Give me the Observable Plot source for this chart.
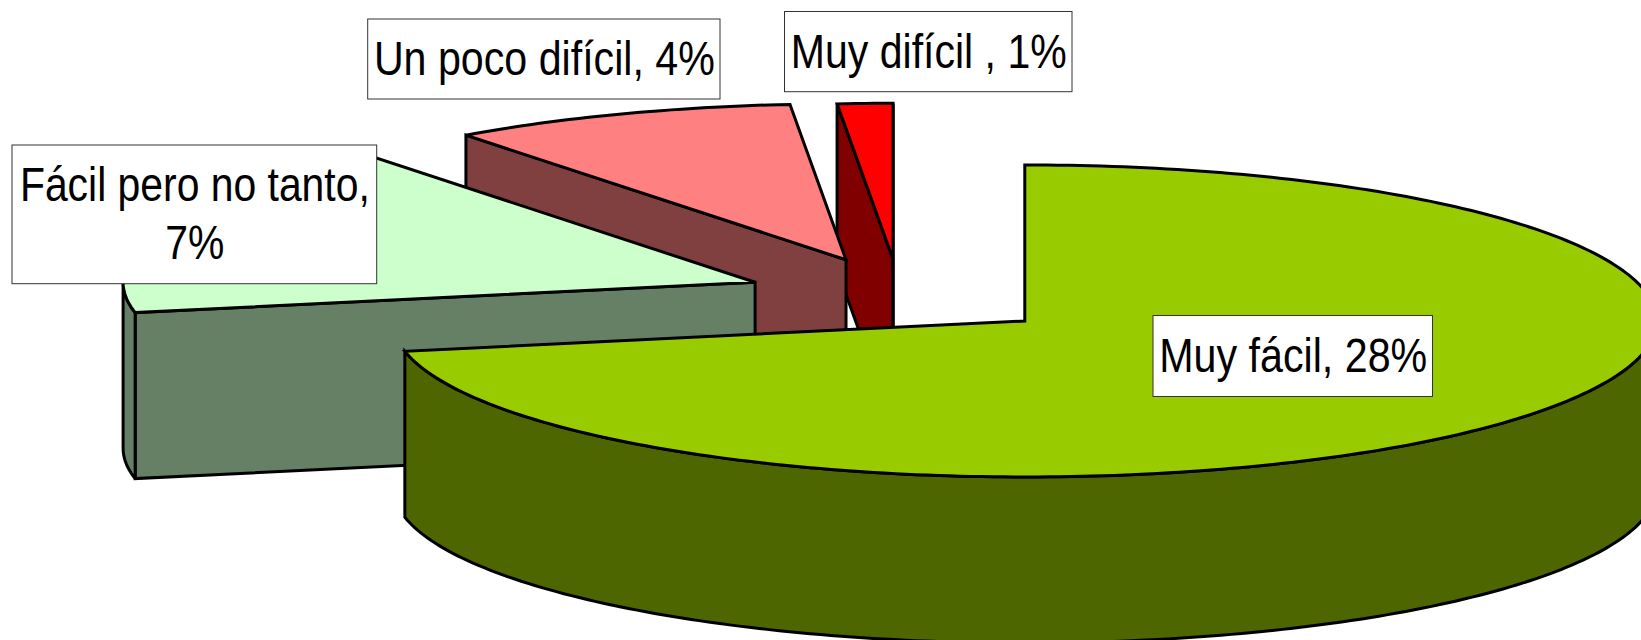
<!DOCTYPE html>
<html>
<head>
<meta charset="utf-8">
<style>html,body{margin:0;padding:0;background:#fff}svg{display:block}</style>
<script src="https://cdn.jsdelivr.net/npm/d3@7"></script>
<script src="https://cdn.jsdelivr.net/npm/@observablehq/plot@0.6"></script>
</head>
<body>
<div id="chart"></div>
<script>
// Data, clockwise from 12 o'clock
const categories = ["Muy fácil", "Fácil pero no tanto", "Un poco difícil", "Muy difícil"];
const values = [28, 6.95, 3.45, 0.55];
const labels = ["Muy fácil, 28%", "Fácil pero no tanto,\n7%", "Un poco difícil, 4%", "Muy difícil , 1%"];
const topColors = ["#99CC00", "#CCFFCC", "#FF8080", "#FF0000"];
const wallColors = ["#4D6600", "#668066", "#804040", "#800000"];

// Layout of the 3D pie
const W = 1641, H = 640;
const cx = 902.2, cy = 295.7, rx = 632, ry = 156, depth = 166, explode = 0.25;
const nudges = [[0, 0], [0, 0], [0, 0], [-2.6, 2]];
const labelBoxes = [
  [1153, 315.5, 1432.5, 396.5],
  [12, 145, 376.7, 283.7],
  [367.7, 19, 720, 99],
  [784.5, 11.5, 1072, 91.7]
];
const labelWidths = [268, 350, 341, 276];

const total = d3.sum(values);
const rad = d => d * Math.PI / 180;
let acc = 0;
const slices = values.map((v, i) => {
  const a0 = acc; acc += v / total * 360; const a1 = acc;
  const mid = rad((a0 + a1) / 2);
  const ox = cx + explode * rx * Math.sin(mid) + nudges[i][0];
  const oy = cy - explode * ry * Math.cos(mid) + nudges[i][1];
  const pt = (deg, z = 0) => ({x: ox + rx * Math.sin(rad(deg)), y: oy - ry * Math.cos(rad(deg)) + z});
  const arc = (from, to, z = 0) => {
    const n = Math.max(1, Math.ceil(Math.abs(to - from)));
    return d3.range(n + 1).map(k => pt(from + (to - from) * k / n, z));
  };
  return {i, a0, a1, ox, oy, pt, arc};
});

// Faces, painted back to front
const faces = [];
let faceId = 0;
const addFace = (points, fill) => {
  const id = faceId++;
  points.forEach(p => faces.push({x: p.x, y: p.y, face: id, fill}));
};
[3, 2, 1, 0].forEach(i => {
  const s = slices[i];
  const wall = wallColors[i], top = topColors[i];
  const apex = {x: s.ox, y: s.oy}, apexLow = {x: s.ox, y: s.oy + depth};
  if (Math.sin(rad(s.a0)) < 0) addFace([apex, s.pt(s.a0), s.pt(s.a0, depth), apexLow], wall);
  if (Math.sin(rad(s.a1)) > 0) addFace([apex, s.pt(s.a1), s.pt(s.a1, depth), apexLow], wall);
  const f0 = Math.max(s.a0, 90), f1 = Math.min(s.a1, 270);
  if (f1 > f0) addFace([...s.arc(f0, f1), ...s.arc(f1, f0, depth)], wall);
  addFace([apex, ...s.arc(s.a0, s.a1)], top);
});

const boxes = labels.map((text, i) => ({
  text, width: labelWidths[i],
  x1: labelBoxes[i][0], y1: labelBoxes[i][1], x2: labelBoxes[i][2], y2: labelBoxes[i][3]
}));

const chart = Plot.plot({
  width: W, height: H,
  margin: 0,
  x: {domain: [0, W], range: [0, W], axis: null},
  y: {domain: [0, H], range: [0, H], axis: null},
  color: {type: "identity"},
  style: {background: "#fff"},
  marks: [
    Plot.line(faces, {
      x: "x", y: "y", z: "face", fill: "fill", stroke: "#000", strokeWidth: 3,
      curve: "linear-closed", strokeLinejoin: "miter", strokeMiterlimit: 3
    }),
    Plot.rect(boxes, {x1: "x1", x2: "x2", y1: "y1", y2: "y2", fill: "#fff", stroke: "#333", strokeWidth: 1}),
    Plot.text(boxes, {
      x: d => (d.x1 + d.x2) / 2, y: d => (d.y1 + d.y2) / 2, text: "text", dy: -3,
      fontFamily: "'Liberation Sans',Arial,sans-serif",
      fontSize: 49, lineHeight: 1.184, fill: "#000", textAnchor: "middle", lineAnchor: "middle",
      className: "pie-label"
    })
  ]
});
document.getElementById("chart").appendChild(chart);

// The labels are set in a condensed face: squeeze each one to its width in the picture
d3.select(chart).selectAll(".pie-label text").each(function(_, i) {
  const b = this.getBBox();
  const t = this.getAttribute("transform") || "";
  this.setAttribute("transform", `${t} scale(${labelWidths[i] / b.width},1)`);
});
</script>
</body>
</html>
